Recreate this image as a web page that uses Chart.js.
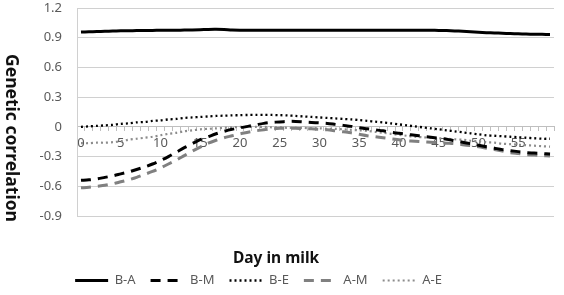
<!DOCTYPE html>
<html>
<head>
<meta charset="utf-8">
<script src="https://cdn.jsdelivr.net/npm/chart.js@4"></script>
<style>
  html, body { margin: 0; padding: 0; background: #fff; }
  #wrap { width: 564px; height: 295px; position: relative; }
</style>
</head>
<body>
<div id="wrap"><canvas id="c" width="564" height="295"></canvas></div>
<script>
// ---- Data ----
const days = [0,1,2,3,4,5,6,7,8,9,10,11,12,13,14,15,16,17,18,19,20,21,22,23,24,25,26,27,28,29,
              30,31,32,33,34,35,36,37,38,39,40,41,42,43,44,45,46,47,48,49,50,51,52,53,54,55,56,57,58,59];

const seriesNames = ['B-A', 'B-M', 'B-E', 'A-M', 'A-E'];

const BA = [0.957,0.960,0.962,0.965,0.967,0.970,0.971,0.972,0.973,0.974,0.975,0.975,0.976,0.977,0.978,0.980,0.984,0.985,0.982,0.977,
            0.975,0.975,0.975,0.975,0.975,0.975,0.975,0.975,0.975,0.975,0.975,0.975,0.975,0.975,0.975,0.975,0.975,0.975,0.975,0.975,
            0.975,0.975,0.975,0.975,0.975,0.974,0.972,0.969,0.965,0.960,0.955,0.951,0.948,0.945,0.942,0.940,0.937,0.935,0.934,0.933];

const BM = [-0.540,-0.535,-0.525,-0.510,-0.495,-0.475,-0.455,-0.430,-0.405,-0.375,-0.340,-0.300,-0.255,-0.210,-0.170,-0.130,-0.100,-0.070,-0.045,-0.025,
            -0.010,0.005,0.020,0.035,0.045,0.050,0.055,0.055,0.050,0.045,0.040,0.035,0.025,0.015,0.005,-0.010,-0.020,-0.030,-0.040,-0.055,
            -0.065,-0.075,-0.085,-0.095,-0.105,-0.115,-0.125,-0.140,-0.155,-0.170,-0.185,-0.200,-0.215,-0.230,-0.240,-0.250,-0.260,-0.265,-0.270,-0.275];

const BE = [0.000,0.005,0.010,0.015,0.020,0.030,0.035,0.045,0.050,0.060,0.065,0.075,0.080,0.090,0.095,0.100,0.105,0.110,0.113,0.116,
            0.118,0.120,0.120,0.120,0.120,0.118,0.115,0.110,0.105,0.100,0.095,0.090,0.085,0.080,0.075,0.068,0.060,0.052,0.044,0.035,
            0.025,0.015,0.005,-0.005,-0.015,-0.025,-0.035,-0.045,-0.055,-0.065,-0.075,-0.085,-0.090,-0.095,-0.100,-0.105,-0.110,-0.115,-0.120,-0.120];

const AM = [-0.615,-0.610,-0.600,-0.590,-0.575,-0.555,-0.535,-0.510,-0.480,-0.450,-0.415,-0.375,-0.335,-0.290,-0.245,-0.205,-0.165,-0.135,-0.110,-0.090,
            -0.070,-0.055,-0.040,-0.030,-0.020,-0.015,-0.015,-0.015,-0.020,-0.020,-0.025,-0.030,-0.040,-0.050,-0.060,-0.075,-0.090,-0.100,-0.110,-0.120,
            -0.130,-0.140,-0.145,-0.150,-0.155,-0.160,-0.165,-0.170,-0.180,-0.190,-0.200,-0.215,-0.230,-0.245,-0.260,-0.270,-0.280,-0.285,-0.290,-0.295];

const AE = [-0.165,-0.165,-0.160,-0.160,-0.155,-0.145,-0.130,-0.120,-0.110,-0.100,-0.085,-0.070,-0.060,-0.045,-0.035,-0.025,-0.020,-0.015,-0.010,-0.005,
            0.000,0.000,0.000,0.000,-0.005,-0.005,-0.010,-0.010,-0.010,-0.015,-0.015,-0.020,-0.020,-0.025,-0.030,-0.035,-0.040,-0.050,-0.060,-0.070,
            -0.080,-0.090,-0.100,-0.105,-0.110,-0.115,-0.120,-0.125,-0.130,-0.140,-0.145,-0.155,-0.160,-0.170,-0.175,-0.180,-0.185,-0.190,-0.195,-0.200];

const yMin = -0.9, yMax = 1.2, yStep = 0.3;
const xTitle = 'Day in milk';
const yTitle = 'Genetic correlation';

// ---- Styling ----
const FONT = '"Noto Sans", "Open Sans", sans-serif';
const gridColor = '#d0d0d0';
const labelColor = '#595959';

function lineDS(label, data, color, width, dash) {
  return {
    label, data,
    borderColor: color,
    backgroundColor: 'transparent',
    borderWidth: width,
    borderDash: dash,
    borderCapStyle: 'butt',
    borderJoinStyle: 'round',
    pointRadius: 0,
    pointHoverRadius: 0,
    tension: 0.3,
    fill: false
  };
}

const titlesPlugin = {
  id: 'titlesPlugin',
  afterLayout(chart) {
    const lg = chart.legend;
    if (lg) {
      const dx = -18.5;
      lg.left += dx; lg.right += dx;
      const h = lg.height;
      lg.top = chart.chartArea.bottom + 43;
      lg.bottom = lg.top + h;
    }
  },
  afterDraw(chart) {
    const ctx = chart.ctx;
    const ca = chart.chartArea;
    ctx.save();
    ctx.fillStyle = '#111';
    ctx.textAlign = 'center';
    ctx.textBaseline = 'middle';
    ctx.font = 'bold 15.5px ' + FONT;
    ctx.fillText(xTitle, ca.left + 199, ca.bottom + 43);
    ctx.translate(11, ca.top + 130);
    ctx.rotate(Math.PI / 2);
    ctx.font = 'bold 17.5px ' + FONT;
    ctx.fillText(yTitle, 0, 0);
    ctx.restore();
  }
};

new Chart(document.getElementById('c'), {
  type: 'line',
  data: {
    labels: days,
    datasets: [
      lineDS(seriesNames[0], BA, '#000000', 3, []),
      lineDS(seriesNames[1], BM, '#000000', 3, [10, 7]),
      lineDS(seriesNames[2], BE, '#000000', 2.3, [2, 3]),
      lineDS(seriesNames[3], AM, '#808080', 3, [10, 7]),
      lineDS(seriesNames[4], AE, '#8c8c8c', 2.2, [2, 3])
    ]
  },
  options: {
    responsive: false,
    animation: false,
    devicePixelRatio: 1,
    layout: { padding: { top: 8, right: 10, bottom: 41, left: 0 } },
    plugins: {
      title: { display: false },
      tooltip: { enabled: false },
      legend: {
        display: true,
        position: 'bottom',
        labels: {
          usePointStyle: true,
          pointStyle: 'line',
          pointStyleWidth: 33,
          boxHeight: 13,
          padding: 15,
          color: labelColor,
          font: { family: FONT, size: 13 },
          generateLabels(chart) {
            const items = Chart.defaults.plugins.legend.labels.generateLabels(chart);
            items.forEach(it => {
              const ds = chart.data.datasets[it.datasetIndex];
              it.lineDash = ds.borderDash;
              it.lineWidth = ds.borderWidth;
              it.strokeStyle = ds.borderColor;
              it.lineCap = 'butt';
              it.pointStyle = 'line';
            });
            return items;
          }
        }
      }
    },
    scales: {
      x: {
        type: 'category',
        position: { y: 0 },
        offset: true,
        afterFit(scale) { scale.height = 0; },
        grid: {
          offset: true,
          drawOnChartArea: false,
          drawTicks: true,
          tickLength: 4,
          color: '#bfbfbf'
        },
        border: { display: true, color: '#bfbfbf', width: 1 },
        ticks: {
          autoSkip: false,
          maxRotation: 0,
          minRotation: 0,
          padding: 5,
          color: labelColor,
          font: { family: FONT, size: 13 },
          callback(value, index) { return index % 5 === 0 ? String(days[index]) : ''; }
        }
      },
      y: {
        position: 'left',
        min: yMin,
        max: yMax,
        afterFit(scale) { scale.width = 77; scale.paddingTop = 0; scale.paddingBottom = 0; },
        ticks: {
          stepSize: yStep,
          padding: 15,
          color: labelColor,
          font: { family: FONT, size: 13 },
          callback(v) { const r = Math.round(v * 10) / 10; return r === 0 ? '0' : r.toFixed(1); }
        },
        grid: { color: gridColor, drawTicks: false, lineWidth: 1 },
        border: { display: true, color: gridColor, width: 1 }
      }
    }
  },
  plugins: [titlesPlugin]
});
</script>
</body>
</html>
